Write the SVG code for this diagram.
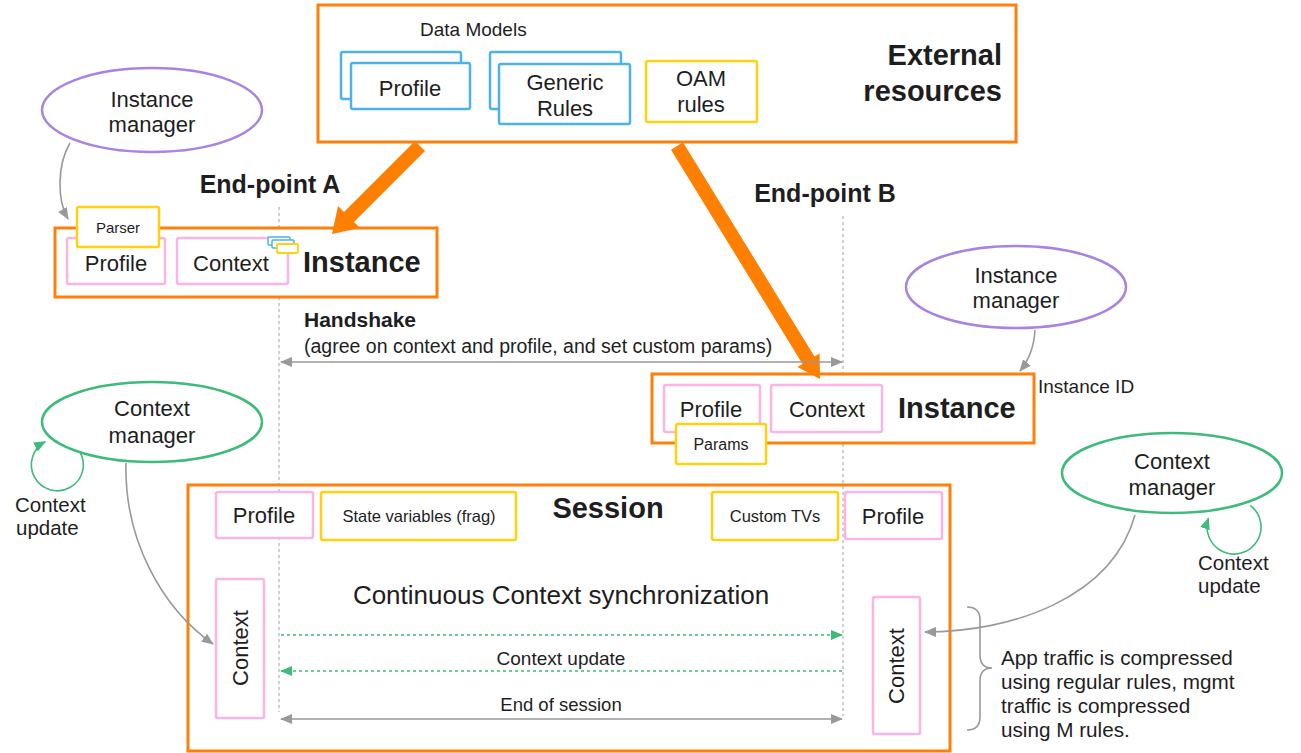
<svg xmlns="http://www.w3.org/2000/svg" width="1301" height="753" viewBox="0 0 1301 753">
  <style>
    text { font-family: "Liberation Sans", Arial, sans-serif; fill: #1e1e1e; }
    .b { font-weight: bold; }
    .mid { text-anchor: middle; }
    .end { text-anchor: end; }
    .orange { fill: #ffffff; stroke: #ff7f0a; stroke-width: 3; }
    .open { fill: none; stroke: #ff7f0a; stroke-width: 3; }
    .pink { fill: #ffffff; stroke: #fbb4e6; stroke-width: 2.5; }
    .yellow { fill: #ffffff; stroke: #ffd10f; stroke-width: 2.5; }
    .blue { fill: #ffffff; stroke: #4db3e6; stroke-width: 2.5; }
    .purple { fill: #ffffff; stroke: #a883e0; stroke-width: 2.5; }
    .green { fill: #ffffff; stroke: #3dbb7b; stroke-width: 2.5; }
    .lifeline { stroke: #a0a0a0; stroke-width: 1; stroke-dasharray: 3 3; fill: none; }
    .grey { stroke: #999999; stroke-width: 1.6; fill: none; }
    .gdash { stroke: #3dbb7b; stroke-width: 1.3; stroke-dasharray: 3 3; fill: none; }
    .gloop { stroke: #3dbb7b; stroke-width: 1.6; fill: none; }
    .bigarrow { fill: #ff7f00; }
  </style>
  <defs>
    <marker id="ah-grey" markerUnits="userSpaceOnUse" markerWidth="12" markerHeight="10" refX="11" refY="5" orient="auto-start-reverse">
      <path d="M0,0 L12,5 L0,10 Z" fill="#999999"/>
    </marker>
    <marker id="ah-green" markerUnits="userSpaceOnUse" markerWidth="12" markerHeight="10" refX="11" refY="5" orient="auto-start-reverse">
      <path d="M0,0 L12,5 L0,10 Z" fill="#3dbb7b"/>
    </marker>
  </defs>

  <rect width="1301" height="753" fill="#ffffff"/>

  <!-- lifelines of the two end-points -->
  <g id="lifelines">
    <line class="lifeline" x1="279" y1="207" x2="279" y2="712"/>
    <line class="lifeline" x1="843" y1="216" x2="843" y2="716"/>
  </g>

  <!-- external resources -->
  <g id="external-resources">
    <rect class="orange" x="318" y="5" width="698" height="137"/>
    <text x="420" y="36" font-size="19">Data Models</text>
    <rect class="blue" x="341" y="52" width="120" height="47" rx="2"/>
    <rect class="blue" x="351" y="63" width="119" height="46" rx="2"/>
    <text class="mid" x="410" y="96" font-size="22">Profile</text>
    <rect class="blue" x="490" y="52" width="131" height="57" rx="2"/>
    <rect class="blue" x="499" y="64" width="131" height="60" rx="2"/>
    <text class="mid" x="565" y="90" font-size="22">Generic</text>
    <text class="mid" x="565" y="116" font-size="22">Rules</text>
    <rect class="yellow" x="646" y="61" width="111" height="61" rx="2"/>
    <text class="mid" x="701" y="86" font-size="22">OAM</text>
    <text class="mid" x="701" y="112" font-size="22">rules</text>
    <text class="b end" x="1002" y="65" font-size="29">External</text>
    <text class="b end" x="1002" y="101" font-size="29">resources</text>
  </g>

  <!-- end-point A -->
  <g id="endpoint-a-label">
    <text class="b mid" x="270" y="193" font-size="25">End-point A</text>
  </g>
  <g id="instance-manager-a">
    <ellipse class="purple" cx="152" cy="110" rx="110" ry="42"/>
    <text class="mid" x="152" y="107" font-size="22">Instance</text>
    <text class="mid" x="152" y="132" font-size="22">manager</text>
  </g>
  <g id="instance-a">
    <rect class="orange" x="55" y="228" width="382" height="69"/>
    <rect class="pink" x="67" y="238" width="98" height="46" rx="2"/>
    <text class="mid" x="116" y="271" font-size="22">Profile</text>
    <rect class="pink" x="177" y="238" width="111" height="46" rx="2"/>
    <text class="mid" x="231" y="271" font-size="22">Context</text>
    <rect fill="#ffffff" stroke="#4db3e6" stroke-width="1.5" x="268" y="237" width="22" height="8" rx="1"/>
    <rect fill="#ffffff" stroke="#4db3e6" stroke-width="1.5" x="272" y="240" width="22" height="8" rx="1"/>
    <rect fill="#ffffff" stroke="#ffd10f" stroke-width="1.8" x="277" y="244" width="21" height="9" rx="1"/>
    <text class="b" x="303" y="272" font-size="29">Instance</text>
    <rect class="yellow" x="77" y="207" width="82" height="40" rx="2"/>
    <text class="mid" x="118" y="233" font-size="15">Parser</text>
  </g>

  <!-- handshake -->
  <g id="handshake">
    <text class="b" x="304" y="327" font-size="21">Handshake</text>
    <text x="304" y="353" font-size="19.5">(agree on context and profile, and set custom params)</text>
  </g>

  <!-- end-point B -->
  <g id="endpoint-b-label">
    <text class="b mid" x="825" y="202" font-size="25">End-point B</text>
  </g>
  <g id="instance-manager-b">
    <ellipse class="purple" cx="1016" cy="287" rx="110" ry="41"/>
    <text class="mid" x="1016" y="283" font-size="22">Instance</text>
    <text class="mid" x="1016" y="308" font-size="22">manager</text>
  </g>
  <g id="instance-b">
    <rect class="orange" x="652" y="374" width="382" height="69"/>
    <rect class="pink" x="664" y="385" width="96" height="47" rx="2"/>
    <text class="mid" x="711" y="417" font-size="22">Profile</text>
    <rect class="pink" x="771" y="385" width="111" height="47" rx="2"/>
    <text class="mid" x="827" y="417" font-size="22">Context</text>
    <text class="b" x="898" y="418" font-size="29">Instance</text>
    <rect class="yellow" x="676" y="424" width="90" height="40" rx="2"/>
    <text class="mid" x="721" y="450" font-size="16">Params</text>
    <text x="1038" y="393" font-size="19">Instance ID</text>
  </g>

  <!-- context managers -->
  <g id="context-manager-a">
    <ellipse class="green" cx="152" cy="422" rx="110" ry="40"/>
    <text class="mid" x="152" y="416" font-size="22">Context</text>
    <text class="mid" x="152" y="443" font-size="22">manager</text>
    <text x="15" y="512" font-size="20.5">Context</text>
    <text x="16" y="535" font-size="20.5">update</text>
  </g>
  <g id="context-manager-b">
    <ellipse class="green" cx="1172" cy="473" rx="110" ry="40"/>
    <text class="mid" x="1172" y="469" font-size="22">Context</text>
    <text class="mid" x="1172" y="495" font-size="22">manager</text>
    <text x="1198" y="570" font-size="20.5">Context</text>
    <text x="1198" y="593" font-size="20.5">update</text>
  </g>

  <!-- session -->
  <g id="session">
    <rect class="open" x="188" y="485" width="762" height="266"/>
    <rect class="pink" x="216" y="492" width="97" height="46" rx="2"/>
    <text class="mid" x="264" y="523" font-size="22">Profile</text>
    <rect class="yellow" x="321" y="492" width="195" height="48" rx="2"/>
    <text class="mid" x="419" y="522" font-size="16.5">State variables (frag)</text>
    <text class="b mid" x="608" y="518" font-size="29">Session</text>
    <rect class="yellow" x="712" y="492" width="126" height="48" rx="2"/>
    <text class="mid" x="775" y="522" font-size="16.5">Custom TVs</text>
    <rect class="pink" x="845" y="492" width="97" height="47" rx="2"/>
    <text class="mid" x="893" y="524" font-size="22">Profile</text>
    <text class="mid" x="561" y="604" font-size="26">Continuous Context synchronization</text>
    <text class="mid" x="561" y="665" font-size="19">Context update</text>
    <text class="mid" x="561" y="711" font-size="18.5">End of session</text>
  </g>
  <g id="session-context-a">
    <rect class="pink" x="216" y="579" width="48" height="139" rx="2"/>
    <text class="mid" transform="translate(240,648) rotate(-90)" y="8" font-size="22">Context</text>
  </g>
  <g id="session-context-b">
    <rect class="pink" x="873" y="597" width="47" height="137" rx="2"/>
    <text class="mid" transform="translate(896,666) rotate(-90)" y="8" font-size="22">Context</text>
  </g>

  <!-- traffic note -->
  <g id="traffic-note">
    <path class="grey" stroke-width="1.2" d="M967,607 Q980,607 980,620 L980,655 Q980,668 992,668 Q980,668 980,681 L980,717 Q980,730 967,730"/>
    <text x="1001" y="665" font-size="20.7">App traffic is compressed</text>
    <text x="1001" y="689" font-size="20.7">using regular rules, mgmt</text>
    <text x="1001" y="713" font-size="20.7">traffic is compressed</text>
    <text x="1001" y="737" font-size="20.7">using M rules.</text>
  </g>

  <!-- connectors -->
  <g id="connectors">
    <polygon class="bigarrow" points="415,141 344,212 338,206 332,234 360,228 354,222 425,151"/>
    <polygon class="bigarrow" points="671,149.7 802.5,364 797.4,367.1 820,379 819.6,353.5 814.5,356.6 683,142.3"/>
    <path class="grey" d="M70,143 C57,165 57,200 68,219" marker-end="url(#ah-grey)"/>
    <path class="grey" d="M1035,330 C1034,348 1029,360 1020,371" marker-end="url(#ah-grey)"/>
    <line class="grey" x1="281" y1="362" x2="842" y2="362" marker-start="url(#ah-grey)" marker-end="url(#ah-grey)"/>
    <path class="gloop" d="M80,452 A26,26 0 1 1 45.2,441.8" marker-end="url(#ah-green)"/>
    <path class="gloop" d="M1250.2,505.4 A27,27 0 1 1 1208.5,518.2" marker-end="url(#ah-green)"/>
    <path class="grey" d="M126,463 C124,540 162,608 213,644" marker-end="url(#ah-grey)"/>
    <path class="grey" d="M1135,515 C1112,598 1012,632 925,632" marker-end="url(#ah-grey)"/>
    <line class="gdash" x1="281" y1="635" x2="842" y2="635" marker-end="url(#ah-green)"/>
    <line class="gdash" x1="842" y1="671" x2="281" y2="671" marker-end="url(#ah-green)"/>
    <line class="grey" x1="281" y1="719" x2="842" y2="719" marker-start="url(#ah-grey)" marker-end="url(#ah-grey)"/>
  </g>
</svg>
